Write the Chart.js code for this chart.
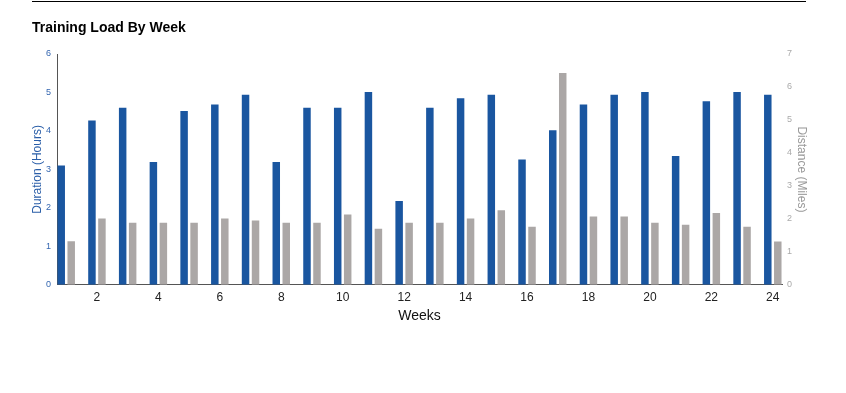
<!DOCTYPE html>
<html>
<head>
<meta charset="utf-8">
<script src="https://cdn.jsdelivr.net/npm/chart.js@4/dist/chart.umd.min.js"></script>
<style>
  body { margin: 0; background: #fff; font-family: "Liberation Sans", Arial, sans-serif; }
  #rule { position: absolute; left: 32px; top: 1px; width: 774px; height: 1px; background: #000; }
  #title { position: absolute; left: 32px; top: 19px; font-size: 14px; font-weight: bold; line-height: 16px; color: #000; z-index: 2; }
  #wrap { position: absolute; left: 0; top: 0; width: 846px; height: 393px; }
</style>
</head>
<body>
<div id="rule"></div>
<div id="title">Training Load By Week</div>
<div id="wrap"><canvas id="load-chart"></canvas></div>
<script>
var weeks = [1, 2, 3, 4, 5, 6, 7, 8, 9, 10, 11, 12, 13, 14, 15, 16, 17, 18, 19, 20, 21, 22, 23, 24];
var durationHours = [3.1, 4.27, 4.6, 3.19, 4.52, 4.69, 4.94, 3.19, 4.6, 4.6, 5.01, 2.18,
                     4.6, 4.85, 4.94, 3.26, 4.02, 4.69, 4.94, 5.01, 3.35, 4.77, 5.01, 4.94];
var distanceMiles = [1.32, 2.01, 1.88, 1.88, 1.88, 2.01, 1.95, 1.88, 1.88, 2.13, 1.7, 1.88,
                     1.88, 2.01, 2.26, 1.76, 6.42, 2.07, 2.07, 1.88, 1.82, 2.18, 1.76, 1.31];

var blue = '#1a56a0';
var grey = '#aba7a6';

Chart.defaults.font.family = '"Liberation Sans", Arial, sans-serif';

function toPoints(values) {
    return weeks.map(function (w, i) { return {x: w, y: values[i]}; });
}

function fixWidth(w) {
    return function (scale) { scale.width = w; };
}

var chartLoad = new Chart(document.getElementById('load-chart'), {
    type: 'bar',
    data: {
        datasets: [{
            label: 'Duration (Hours)',
            data: toPoints(durationHours),
            backgroundColor: blue,
            yAxisID: 'y',
            categoryPercentage: 0.65,
            barPercentage: 0.75
        }, {
            label: 'Distance (Miles)',
            data: toPoints(distanceMiles),
            backgroundColor: grey,
            yAxisID: 'y1',
            categoryPercentage: 0.65,
            barPercentage: 0.75
        }]
    },
    options: {
        responsive: true,
        maintainAspectRatio: false,
        animation: false,
        layout: { padding: { left: 30, right: 37, top: 54, bottom: 68 } },
        plugins: {
            legend: { display: false },
            tooltip: { enabled: false }
        },
        scales: {
            x: {
                type: 'linear',
                offset: false,
                min: 0.7,
                max: 24.3,
                grid: { display: false, drawTicks: false },
                border: { color: '#555' },
                ticks: { stepSize: 2, includeBounds: false, padding: 6, color: '#222', font: { size: 12 } },
                title: { display: true, text: 'Weeks', color: '#111', font: { size: 14 }, padding: { top: -3, bottom: 0 } }
            },
            y: {
                position: 'left',
                min: 0,
                max: 6,
                grid: { display: false, drawTicks: false },
                border: { color: '#555' },
                ticks: { stepSize: 1, padding: 6, color: '#3466b0', font: { size: 9 } },
                title: { display: true, text: 'Duration (Hours)', color: '#2a5ea8', font: { size: 12 }, padding: 0 },
                afterFit: fixWidth(27)
            },
            y1: {
                position: 'right',
                min: 0,
                max: 7,
                grid: { display: false, drawTicks: false },
                border: { display: false },
                ticks: { stepSize: 1, padding: 5, color: '#aaa', font: { size: 9 } },
                title: { display: true, text: 'Distance (Miles)', color: '#999', font: { size: 12 }, padding: 0 },
                afterFit: fixWidth(27)
            }
        }
    }
});
</script>
</body>
</html>
